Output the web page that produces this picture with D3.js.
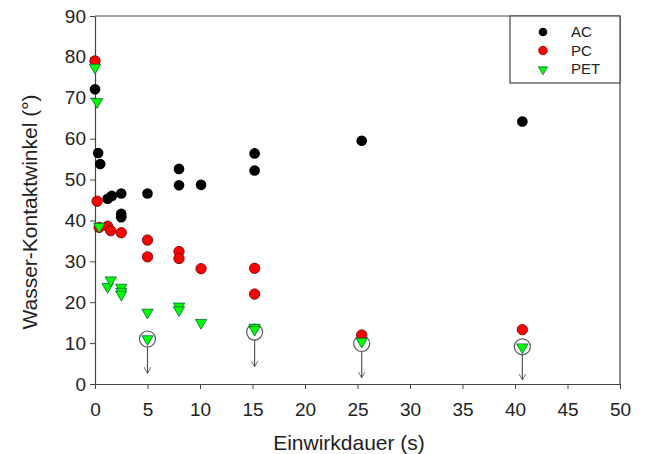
<!DOCTYPE html>
<html>
<head>
<meta charset="utf-8">
<script src="https://cdn.jsdelivr.net/npm/d3@7"></script>
<style>
  body { margin: 0; background: #fff; }
  text { font-family: "Liberation Sans", Arial, sans-serif; fill: #222; }
</style>
</head>
<body>
<svg id="chart" width="646" height="454"></svg>
<script>
// data
const acTime = [0, 0.3, 0.5, 1.2, 1.6, 2.5, 2.5, 2.5, 5.0, 8.0, 8.0, 10.1, 15.2, 15.2, 25.4, 40.7];
const acAngle = [72.1, 56.5, 53.8, 45.3, 46.0, 46.6, 41.6, 40.8, 46.6, 52.6, 48.6, 48.7, 56.4, 52.2, 59.5, 64.2];

const pcTime = [0, 0.2, 0.4, 1.2, 1.5, 2.5, 5.0, 5.0, 8.0, 8.0, 10.1, 15.2, 15.2, 25.4, 40.7];
const pcAngle = [79.0, 44.7, 38.3, 38.6, 37.5, 37.0, 35.2, 31.1, 32.4, 30.7, 28.2, 28.3, 22.0, 12.0, 13.3];

const petTime = [0, 0.2, 0.4, 1.2, 1.5, 2.5, 2.5, 2.5, 5.0, 5.0, 8.0, 8.0, 10.1, 15.2, 15.2, 25.4, 40.7];
const petAngle = [77.4, 69.0, 38.5, 23.8, 25.4, 23.6, 22.6, 21.9, 17.5, 11.0, 19.0, 18.1, 15.0, 13.8, 13.3, 10.4, 9.0];

// circled points with arrow (below detection limit)
const limitTime = [5.0, 15.2, 25.4, 40.7];
const limitCircle = [11.0, 12.7, 9.9, 9.1];
const limitArrowEnd = [2.6, 4.2, 1.5, 1.0];

const xTicks = [0, 5, 10, 15, 20, 25, 30, 35, 40, 45, 50];
const yTicks = [0, 10, 20, 30, 40, 50, 60, 70, 80, 90];

const margin = {top: 16, right: 26, bottom: 70, left: 95};
const width = 646 - margin.left - margin.right,
  height = 454 - margin.top - margin.bottom;

const svg = d3.select("#chart");

svg.append("defs").append("marker")
  .attr("id", "arrowhead")
  .attr("viewBox", "0 0 10 10")
  .attr("refX", 9).attr("refY", 5)
  .attr("markerWidth", 7).attr("markerHeight", 7)
  .attr("markerUnits", "userSpaceOnUse")
  .attr("orient", "auto")
  .append("path")
  .attr("d", "M0,0 L9,5 L0,10")
  .attr("fill", "none")
  .attr("stroke", "#555")
  .attr("stroke-width", 1.2);

const plot = svg.append("g")
  .attr("transform", "translate(" + margin.left + "," + margin.top + ")");

const x = d3.scaleLinear().domain([0, 50]).range([0, width]);
const y = d3.scaleLinear().domain([0, 90]).range([height, 0]);

// frame (top and right)
plot.append("path")
  .attr("d", "M0,0 H" + width + " V" + height)
  .attr("fill", "none")
  .attr("stroke", "#444")
  .attr("stroke-width", 1.2);

const xAxis = plot.append("g")
  .attr("transform", "translate(0," + height + ")")
  .call(d3.axisBottom(x).tickValues(xTicks).tickSize(5).tickPadding(14).tickSizeOuter(0));

const yAxis = plot.append("g")
  .call(d3.axisLeft(y).tickValues(yTicks).tickSize(5).tickPadding(4).tickSizeOuter(0));

[xAxis, yAxis].forEach(ax => {
  ax.select(".domain").attr("stroke", "#444").attr("stroke-width", 1.2);
  ax.selectAll(".tick line").attr("stroke", "#444");
  ax.selectAll(".tick text")
    .style("font-family", '"Liberation Sans", Arial, sans-serif')
    .style("font-size", "19px")
    .attr("fill", "#222");
});

// arrows + circles
limitTime.forEach((t, i) => {
  plot.append("line")
    .attr("x1", x(t)).attr("x2", x(t))
    .attr("y1", y(limitCircle[i]) + 8)
    .attr("y2", y(limitArrowEnd[i]))
    .attr("stroke", "#555")
    .attr("stroke-width", 1.2)
    .attr("marker-end", "url(#arrowhead)");
  plot.append("circle")
    .attr("cx", x(t)).attr("cy", y(limitCircle[i]))
    .attr("r", 8)
    .attr("fill", "none")
    .attr("stroke", "#555")
    .attr("stroke-width", 1.2);
});

const tri = d3.symbol().type(d3.symbolTriangle).size(55);

// series
plot.append("g").selectAll("circle")
  .data(d3.range(acTime.length))
  .join("circle")
  .attr("cx", i => x(acTime[i]))
  .attr("cy", i => y(acAngle[i]))
  .attr("r", 5.3)
  .attr("fill", "#000");

plot.append("g").selectAll("circle")
  .data(d3.range(pcTime.length))
  .join("circle")
  .attr("cx", i => x(pcTime[i]))
  .attr("cy", i => y(pcAngle[i]))
  .attr("r", 5.2)
  .attr("fill", "#f00")
  .attr("stroke", "#600")
  .attr("stroke-width", 0.8);

plot.append("g").selectAll("path")
  .data(d3.range(petTime.length))
  .join("path")
  .attr("d", tri)
  .attr("transform", i => "translate(" + x(petTime[i]) + "," + y(petAngle[i]) + ") rotate(180)")
  .attr("fill", "#0f0")
  .attr("stroke", "#063")
  .attr("stroke-width", 0.8);

// legend
const legend = svg.append("g").attr("transform", "translate(510,16)");
legend.append("rect")
  .attr("width", 110).attr("height", 67)
  .attr("fill", "#fff")
  .attr("stroke", "#444")
  .attr("stroke-width", 1.2);

const legendNames = ["AC", "PC", "PET"];
const legendRows = [16, 34.5, 52.5];
legendNames.forEach((name, i) => {
  if (i < 2) {
    legend.append("circle")
      .attr("cx", 33).attr("cy", legendRows[i])
      .attr("r", 4.3)
      .attr("fill", i === 0 ? "#000" : "#f00")
      .attr("stroke", i === 0 ? "none" : "#600")
      .attr("stroke-width", 0.8);
  } else {
    legend.append("path")
      .attr("d", d3.symbol().type(d3.symbolTriangle).size(36))
      .attr("transform", "translate(33," + (legendRows[i] + 1) + ") rotate(180)")
      .attr("fill", "#0f0")
      .attr("stroke", "#063")
      .attr("stroke-width", 0.8);
  }
  legend.append("text")
    .attr("x", 61).attr("y", legendRows[i])
    .attr("dy", "0.35em")
    .style("font-size", "15px")
    .text(name);
});

// axis titles
svg.append("text")
  .attr("x", 349)
  .attr("y", 450)
  .attr("text-anchor", "middle")
  .style("font-size", "21px")
  .text("Einwirkdauer (s)");

svg.append("text")
  .attr("transform", "translate(37,212) rotate(-90)")
  .attr("text-anchor", "middle")
  .style("font-size", "21px")
  .text("Wasser-Kontaktwinkel (°)");
</script>
</body>
</html>
